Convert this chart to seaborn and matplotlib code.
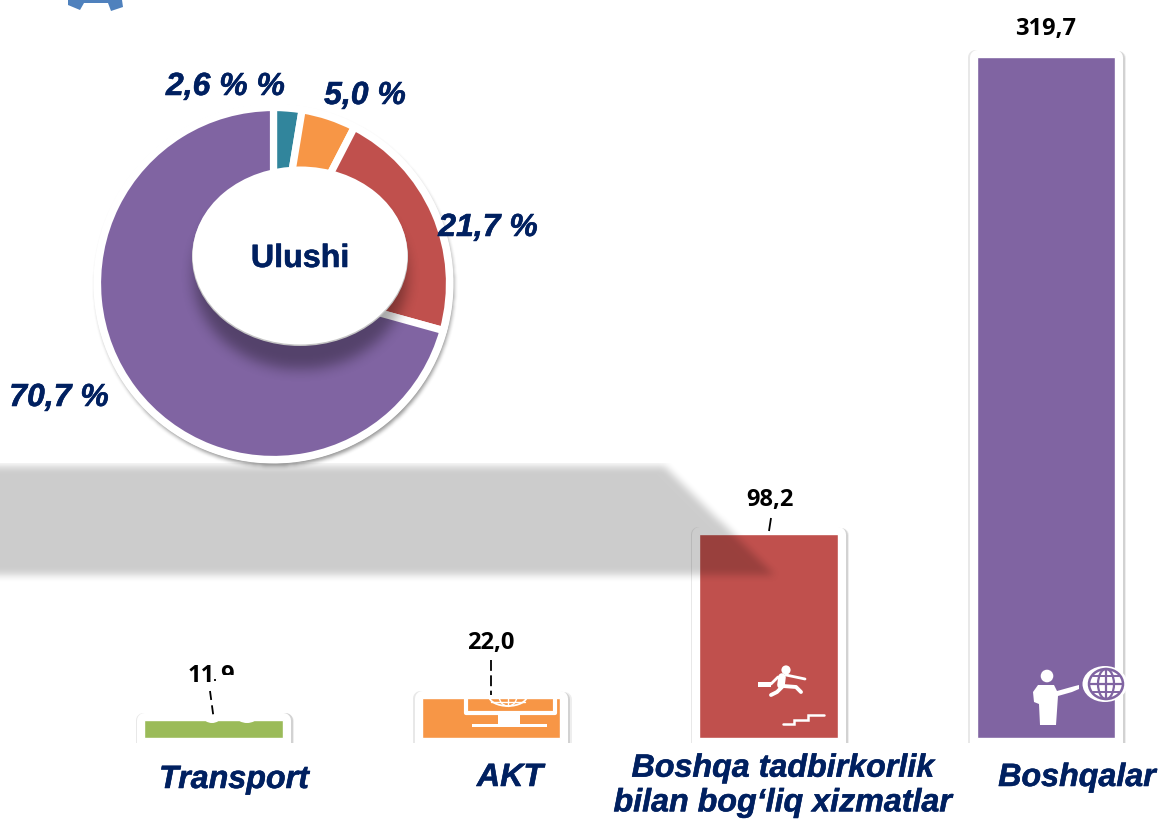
import numpy as np
import pandas as pd
import matplotlib
matplotlib.use("Agg")
import matplotlib.pyplot as plt
import matplotlib.patheffects as pe
from matplotlib.patches import Circle, Ellipse, Polygon, Rectangle
import seaborn as sns

categories = ["Transport", "AKT", "Boshqa tadbirkorlik\nbilan bog‘liq xizmatlar", "Boshqalar"]
values = [11.9, 22.0, 98.2, 319.7]
bar_colors = ["#9bbb59", "#f79646", "#c0504d", "#8064a2"]

share_labels = ["2,6 % %", "5,0 %", "21,7 %", "70,7 %"]
share_values = [2.6, 5.0, 21.7, 70.7]
share_colors = ["#31859c", "#f79646", "#c0504d", "#8064a2"]

NAVY = "#002060"
W, H = 1158, 834
BASE = 3.6          # value where the coloured bars are cut by the page
sns.set_theme(style="white")
plt.rcParams["font.family"] = ["Liberation Sans", "DejaVu Sans"]

fig = plt.figure(figsize=(W / 100, H / 100), dpi=100, facecolor="white")
heavy = [pe.withStroke(linewidth=0.4, foreground=NAVY)]


def px_axes(x0, y0, x1, y1, z):
    a = fig.add_axes([x0 / W, 1 - y1 / H, (x1 - x0) / W, (y1 - y0) / H], zorder=z)
    a.patch.set_visible(False)
    return a


def box_blur(a, r, axis):
    pad = [(0, 0), (0, 0)]
    pad[axis] = (r + 1, r)
    c = np.cumsum(np.pad(a, pad, mode="edge"), axis=axis)
    n = a.shape[axis]
    hi = np.take(c, range(2 * r + 1, n + 2 * r + 1), axis=axis)
    lo = np.take(c, range(0, n), axis=axis)
    return (hi - lo) / (2 * r + 1)


def blur(a, r):
    for _ in range(2):
        a = box_blur(box_blur(a, r, 0), r, 1)
    return a


yy, xx = np.mgrid[0:H, 0:W]
CX, CY = 273.5, 283.5


def rgba(alpha):
    im = np.zeros((H, W, 4))
    im[..., 3] = alpha
    return im


# ---- background shadow of the doughnut
back = px_axes(0, 0, W, H, 0)
back.set_xlim(0, W); back.set_ylim(H, 0); back.axis("off")
ring_sh = blur((((xx - CX - 1) ** 2 + (yy - CY - 3) ** 2) < 179 ** 2).astype(float), 2) * 0.42
back.imshow(rgba(ring_sh), extent=(0, W, H, 0), aspect="auto", interpolation="bilinear")
back.set_xlim(0, W); back.set_ylim(H, 0)

# ---- bars
ax = px_axes(75, 0, W, 743, 1)
df = pd.DataFrame({"category": categories, "value": values})
sns.barplot(data=df, x="category", y="value", hue="category", palette=["white"] * 4,
            width=0.5, legend=False, dodge=False, ax=ax, saturation=1, zorder=1)
frames = list(ax.patches)
sns.barplot(data=df, x="category", y="value", hue="category", palette=bar_colors,
            width=0.5, legend=False, dodge=False, ax=ax, saturation=1, zorder=2)
fills = [p for p in ax.patches if p not in frames]
for p in frames:
    p.set_edgecolor("white")
    p.set_linewidth(10.8)
    p.set_joinstyle("round")
    p.set_path_effects([
        pe.Stroke(linewidth=10.8, foreground="#eeeeee", offset=(2.2, -0.3)),
        pe.Stroke(linewidth=10.8, foreground="#d2d2d2", offset=(1.2, -0.2)),
        pe.Stroke(linewidth=10.8, foreground="#e8e8e8", offset=(-1.2, 0)),
        pe.Normal()])
for p in fills:
    top = p.get_y() + p.get_height()
    p.set_y(BASE)
    p.set_height(top - BASE)
ax.set_xlim(-0.5, 3.404)
ax.set_ylim(1.28, 346.4)
ax.set_xlabel(""); ax.set_ylabel("")
ax.set_xticks([]); ax.set_yticks([])
sns.despine(ax=ax, left=True, bottom=True)
ax.grid(False)

label_offsets = [(-2, 44), (0, 55), (1, 34), (0, 28)]
for i, (v, off) in enumerate(zip(values, label_offsets)):
    ax.annotate(f"{v:.1f}".replace(".", ","), (i, v), xytext=off, textcoords="offset pixels",
                ha="center", va="center", fontsize=17, fontweight="bold",
                family=["Open Sans", "DejaVu Sans"], color="black", zorder=5)

# ---- doughnut
pie_ax = px_axes(CX - 225, CY - 225, CX + 225, CY + 225, 2)
pie_ax.add_patch(Circle((0, 0), 1.0, fc="white", ec="none"))
pie_ax.pie(share_values, colors=share_colors, startangle=90, counterclock=False,
           radius=176.0 / 180, wedgeprops=dict(width=0.7, edgecolor="white", linewidth=5.2))
pie_ax.set_xlim(-1.25, 1.25); pie_ax.set_ylim(-1.25, 1.25)
pie_ax.set_aspect("equal")

# ---- overlay in page pixels
ov = px_axes(0, 0, W, H, 3)
ov.set_xlim(0, W); ov.set_ylim(H, 0); ov.axis("off")

# grey band falling over the red bar
right = 664 + (yy - 466) * (775 - 664) / (575 - 466)
band = ((yy >= 466) & (yy <= 574) & (xx <= right)).astype(float)
band = np.pad(band, ((0, 0), (30, 0)), mode="edge")
band = blur(band, 4)[:, 30:]
band[yy < 463] = 0
# doughnut hole shadow
hole_sh = (((xx - 300) / 107) ** 2 + ((yy - 275) / 94) ** 2 < 1).astype(float)
hole_sh = blur(hole_sh, 7) * 0.34
ov.imshow(rgba(np.maximum(band * 0.2, hole_sh)), extent=(0, W, H, 0), aspect="auto",
          interpolation="bilinear", zorder=1)
ov.set_xlim(0, W); ov.set_ylim(H, 0)

ov.add_patch(Ellipse((300, 257), 216, 178, fc="#c4c4c4", ec="none", zorder=2))
ov.add_patch(Ellipse((300, 255.5), 215, 178, fc="white", ec="none", zorder=3))
ov.text(300, 259, "Ulushi", ha="center", va="center", fontsize=23.2, fontweight="bold",
        color=NAVY, zorder=4, path_effects=heavy)

share_pos = [(225.5, 87), (365, 96), (488, 228), (59, 398)]
for s, (x, y) in zip(share_labels, share_pos):
    ov.text(x, y, s, ha="center", va="center", fontsize=23, fontweight="bold",
            fontstyle="italic", color=NAVY, zorder=4, path_effects=heavy)

cat_pos = [(234, 780), (510, 778), (783, 786), (1077, 778)]
for s, (x, y) in zip(categories, cat_pos):
    ov.text(x, y, s, ha="center", va="center", fontsize=23.2, fontweight="bold",
            fontstyle="italic", color=NAVY, linespacing=1.2, zorder=4, path_effects=heavy)

# gear fragment
ov.add_patch(Polygon([(68, 0), (68, 5), (80, 10), (84, 3), (108, 3), (111, 11), (123, 7), (122, 0)],
                     fc="#4f81bd", ec="none", zorder=4))

# label clean-up and leaders
ax_white = dict(fc="white", ec="none")
ov.add_patch(Rectangle((214, 675), 28, 16, zorder=6, **ax_white))
ov.add_patch(Rectangle((186, 683), 32, 8, zorder=6, **ax_white))
lead = dict(color="black", lw=1.3, zorder=7, solid_capstyle="butt")
ov.plot([215, 215], [679, 681], **lead)
ov.plot([210, 213.5], [691, 717], ls=(0, (5, 3)), **lead)
ov.plot([491, 491], [660, 695], ls=(0, (6, 2.5)), **lead)
ov.plot([771, 769], [518, 531], **lead)

# ---- white icons
wh = dict(fc="white", ec="none", zorder=5)
# transport bumps
ov.add_patch(Ellipse((212, 717), 17, 12, **wh))
ov.add_patch(Ellipse((247, 717), 20, 12, **wh))
# monitor
ov.plot([465.5, 465.5, 555, 555], [699, 712.5, 712.5, 699], color="white", lw=3, zorder=5,
        solid_joinstyle="round")
ov.add_patch(Rectangle((498, 714), 22, 10, **wh))
ov.add_patch(Rectangle((472, 724), 75, 3, **wh))
clip = Rectangle((480, 699), 60, 12, transform=ov.transData)
for w, lw in [(38, 1.3), (18, 1.0)]:
    e = Ellipse((508, 696), w, 20, fc="none", ec="white", lw=lw, zorder=5)
    ov.add_patch(e)
    e.set_clip_path(clip)
ov.plot([491, 525], [702, 702], color="white", lw=1, zorder=5)
ov.plot([508, 508], [699, 706], color="white", lw=1, zorder=5)
# runner
ov.add_patch(Circle((786, 670), 4.6, **wh))
limb = dict(color="white", zorder=5, solid_capstyle="round", solid_joinstyle="round")
ov.plot([782, 781], [677, 685], lw=5.5, **limb)
ov.plot([786, 805], [675, 679], lw=2, **limb)
ov.plot([778, 771], [677, 684], lw=2, **limb)
ov.plot([783, 796, 801], [686, 687, 692], lw=2.8, **limb)
ov.plot([782, 777, 771], [687, 692, 695], lw=2.8, **limb)
ov.add_patch(Rectangle((758, 682), 13, 5, **wh))
ov.plot([783, 794, 794, 808, 808, 824], [724, 724, 719.5, 719.5, 715, 715], color="white",
        lw=1.8, zorder=5, solid_joinstyle="miter")
# person and globe
ov.add_patch(Circle((1047, 676), 6.3, **wh))
ov.add_patch(Polygon([(1038, 685), (1054, 685), (1057, 691), (1075, 686), (1079, 685), (1079, 689),
                     (1072, 692), (1058, 696), (1056, 725), (1040, 725), (1039, 704), (1034, 702),
                     (1033, 692)], **wh))
ov.add_patch(Ellipse((1105, 684), 45, 36, **wh))
grid = dict(color="#8064a2", zorder=6)
ov.add_patch(Ellipse((1106, 684), 34, 30, fc="none", ec="#8064a2", lw=1.8, zorder=6))
ov.add_patch(Ellipse((1106, 684), 16, 30, fc="none", ec="#8064a2", lw=1.6, zorder=6))
ov.plot([1090, 1122], [684, 684], lw=1.6, **grid)
ov.plot([1106, 1106], [670, 698], lw=1.6, **grid)
ov.plot([1093, 1119], [676, 676], lw=1.4, **grid)
ov.plot([1093, 1119], [692, 692], lw=1.4, **grid)

fig.savefig("out.png", dpi=100, facecolor="white")
